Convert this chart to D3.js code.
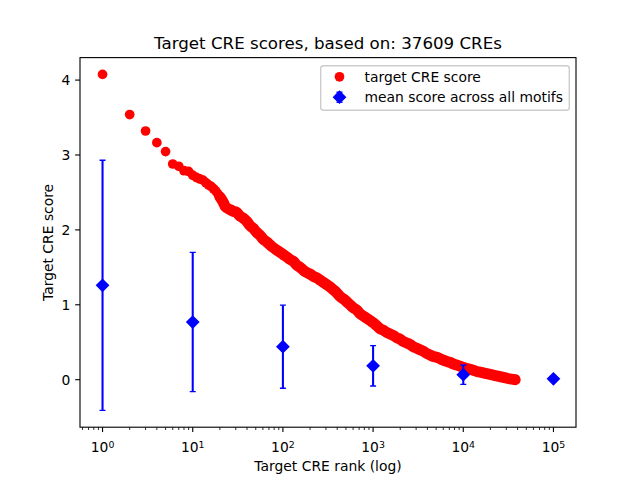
<!DOCTYPE html>
<html><head><meta charset="utf-8">
<script src="https://cdn.jsdelivr.net/npm/d3@7"></script>
<style>body{margin:0;background:#fff}svg{display:block}text{font-family:"DejaVu Sans",sans-serif;fill:#000}</style>
</head><body><svg id="chart" width="640" height="480"></svg>
<script>
// ---- data ----
const chartTitle = "Target CRE scores, based on: 37609 CREs";
const xLabel = "Target CRE rank (log)";
const yLabel = "Target CRE score";
const legendLabels = ["target CRE score", "mean score across all motifs"];

const scoreRanks = [1,2,3,4,5,6,7,8,9,10,11,12,13,14,15,16,17,18,19,20,
  22,23,26,28,31,33,36,40,43,47,51,56,61,66,72,78,85,93,101,110,
  120,131,142,155,169,184,200,218,237,258,281,306,333,363,396,430,468,511,555,604,
  659,717,780,851,925,1007,1098,1195,1300,1418,1542,1678,1830,1991,2166,2362,2570,2796,3050,3318,
  3610,3937,4282,4660,5082,5528,6015,6560,7137,7762,8467,9211,10021,10929,11890,12936,14110,15350,16700,18210,
  19815,21560,23510,25580,27830,30350,33020,35930,37609];
const targetScores = [4.076,3.54,3.32,3.165,3.045,2.88,2.85,2.79,2.78,2.73,2.70,2.68,2.665,2.63,2.60,2.58,2.55,2.52,2.48,2.44,
  2.36,2.31,2.27,2.25,2.23,2.19,2.16,2.11,2.06,2.02,1.97,1.925,1.87,1.84,1.80,1.765,1.733,1.70,1.67,1.64,
  1.605,1.58,1.53,1.50,1.46,1.43,1.41,1.38,1.36,1.33,1.30,1.27,1.24,1.20,1.16,1.11,1.08,1.04,1.00,0.96,
  0.93,0.88,0.85,0.82,0.79,0.76,0.72,0.68,0.66,0.63,0.61,0.59,0.56,0.54,0.51,0.49,0.47,0.44,0.42,0.40,
  0.38,0.35,0.33,0.31,0.30,0.28,0.26,0.245,0.23,0.21,0.195,0.18,0.165,0.15,0.14,0.125,0.11,0.10,0.09,0.08,
  0.07,0.06,0.05,0.04,0.03,0.02,0.01,0.005,0.0];

const motifRanks = [1,10,100,1000,10000,100000];
const motifMeans = [1.26,0.77,0.44,0.185,0.067,0.012];
const motifStd   = [1.67,0.93,0.555,0.27,0.13,0.0];

const yTickValues = [0,1,2,3,4];

// ---- layout ----
const L = 80, R = 576, T = 57.6, B = 427.2;
const svg = d3.select("#chart");

const lx = [0,5];
const padX = (lx[1]-lx[0])*0.05;
const x = d3.scaleLog().domain([Math.pow(10,lx[0]-padX), Math.pow(10,lx[1]+padX)]).range([L,R]);
const yMin = d3.min([d3.min(targetScores), d3.min(motifMeans.map((m,i)=>m-motifStd[i]))]);
const yMax = d3.max([d3.max(targetScores), d3.max(motifMeans.map((m,i)=>m+motifStd[i]))]);
const padY = (yMax-yMin)*0.05;
const y = d3.scaleLinear().domain([yMin-padY, yMax+padY]).range([B,T]);

const RED = "#ff0000", BLUE = "#0000ff";
const pt = 100/72;
const dotR = 4.85;

svg.append("clipPath").attr("id","clip").append("rect").attr("x",L).attr("y",T).attr("width",R-L).attr("height",B-T);
const plot = svg.append("g").attr("clip-path","url(#clip)");

// red scatter: where ranks are dense (every rank present) the dots merge into a band
const pts = scoreRanks.map((r,i)=>[r,targetScores[i]]);
const denseStart = scoreRanks.indexOf(20);
plot.append("path").datum(pts.slice(denseStart))
  .attr("d", d3.line().x(d=>x(d[0])).y(d=>y(d[1])).curve(d3.curveMonotoneX))
  .attr("fill","none").attr("stroke",RED).attr("stroke-width",2*dotR+1.3)
  .attr("stroke-linecap","round").attr("stroke-linejoin","round");
plot.append("g").selectAll("circle").data(pts).join("circle")
  .attr("cx",d=>x(d[0])).attr("cy",d=>y(d[1]))
  .attr("r",dotR).attr("fill",RED);

// error bars
const eb = plot.append("g");
const capW = 3;
motifRanks.forEach((r,i)=>{
  const cx = x(r), lo = y(motifMeans[i]-motifStd[i]), hi = y(motifMeans[i]+motifStd[i]);
  eb.append("line").attr("x1",cx).attr("x2",cx).attr("y1",lo).attr("y2",hi)
    .attr("stroke",BLUE).attr("stroke-width",1.5*pt);
  [lo,hi].forEach(yy=>eb.append("line").attr("x1",cx-capW).attr("x2",cx+capW).attr("y1",yy).attr("y2",yy)
    .attr("stroke",BLUE).attr("stroke-width",1*pt));
});
const dh = 5.9;
const diamond = (cx,cy)=>`M${cx},${cy-dh}L${cx+dh},${cy}L${cx},${cy+dh}L${cx-dh},${cy}Z`;
eb.selectAll("path").data(motifRanks).join("path")
  .attr("d",(d,i)=>diamond(x(d),y(motifMeans[i])))
  .attr("fill",BLUE).attr("stroke",BLUE).attr("stroke-width",1*pt).attr("stroke-linejoin","miter");

// axes frame
svg.append("rect").attr("x",L).attr("y",T).attr("width",R-L).attr("height",B-T)
  .attr("fill","none").attr("stroke","#000").attr("stroke-width",0.8*pt);

const tickLen = 3.5*pt, minorLen = 2*pt, tickPad = 3.5*pt;
const axisG = svg.append("g");
const xd = x.domain();
const majors = [], minors = [];
for (let k=Math.floor(Math.log10(xd[0])); k<=Math.ceil(Math.log10(xd[1])); k++){
  const p = Math.pow(10,k);
  if (p>=xd[0] && p<=xd[1]) majors.push(k);
  for (let m=2;m<=9;m++){ const v=m*p; if (v>=xd[0]&&v<=xd[1]) minors.push(v); }
}
majors.forEach(k=>{
  const px = x(Math.pow(10,k));
  axisG.append("line").attr("x1",px).attr("x2",px).attr("y1",B).attr("y2",B+tickLen).attr("stroke","#000").attr("stroke-width",0.8*pt);
  const t = axisG.append("text").attr("x",px).attr("y",452.3).attr("text-anchor","middle").attr("font-size",13.89);
  t.append("tspan").text("10");
  t.append("tspan").attr("dy",-4.8).attr("font-size",9.4).text(String(k));
});
minors.forEach(v=>{
  const px = x(v);
  axisG.append("line").attr("x1",px).attr("x2",px).attr("y1",B).attr("y2",B+minorLen).attr("stroke","#000").attr("stroke-width",0.6*pt);
});
yTickValues.forEach(v=>{
  const py = y(v);
  axisG.append("line").attr("x1",L-tickLen).attr("x2",L).attr("y1",py).attr("y2",py).attr("stroke","#000").attr("stroke-width",0.8*pt);
  axisG.append("text").attr("x",L-tickLen-tickPad).attr("y",py).attr("dy","0.36em").attr("text-anchor","end").attr("font-size",13.89).text(String(v));
});

svg.append("text").attr("x",(L+R)/2).attr("y",T-6*pt).attr("text-anchor","middle").attr("font-size",16.67).text(chartTitle);
svg.append("text").attr("x",(L+R)/2).attr("y",471).attr("text-anchor","middle").attr("font-size",13.89).text(xLabel);
svg.append("text").attr("transform",`translate(53,${(T+B)/2}) rotate(-90)`).attr("text-anchor","middle").attr("font-size",13.89).text(yLabel);

// legend
const lg = svg.append("g");
lg.append("rect").attr("x",320.7).attr("y",65.7).attr("width",248.6).attr("height",44.6).attr("rx",2.8)
  .attr("fill","#fff").attr("fill-opacity",0.8).attr("stroke","#cccccc").attr("stroke-width",1*pt);
lg.append("circle").attr("cx",339.5).attr("cy",76.8).attr("r",dotR).attr("fill",RED);
const ly2 = 97.2, lx0 = 339.5;
lg.append("line").attr("x1",lx0).attr("x2",lx0).attr("y1",ly2-5).attr("y2",ly2+5).attr("stroke",BLUE).attr("stroke-width",1.5*pt);
[ly2-5,ly2+5].forEach(yy=>lg.append("line").attr("x1",lx0-capW).attr("x2",lx0+capW).attr("y1",yy).attr("y2",yy).attr("stroke",BLUE).attr("stroke-width",1*pt));
lg.append("path").attr("d",diamond(lx0,ly2)).attr("fill",BLUE).attr("stroke",BLUE).attr("stroke-width",1*pt);
legendLabels.forEach((s,i)=>{
  lg.append("text").attr("x",364.5).attr("y",i===0?76.8:ly2).attr("dy","0.36em").attr("font-size",13.89).text(s);
});
</script></body></html>
